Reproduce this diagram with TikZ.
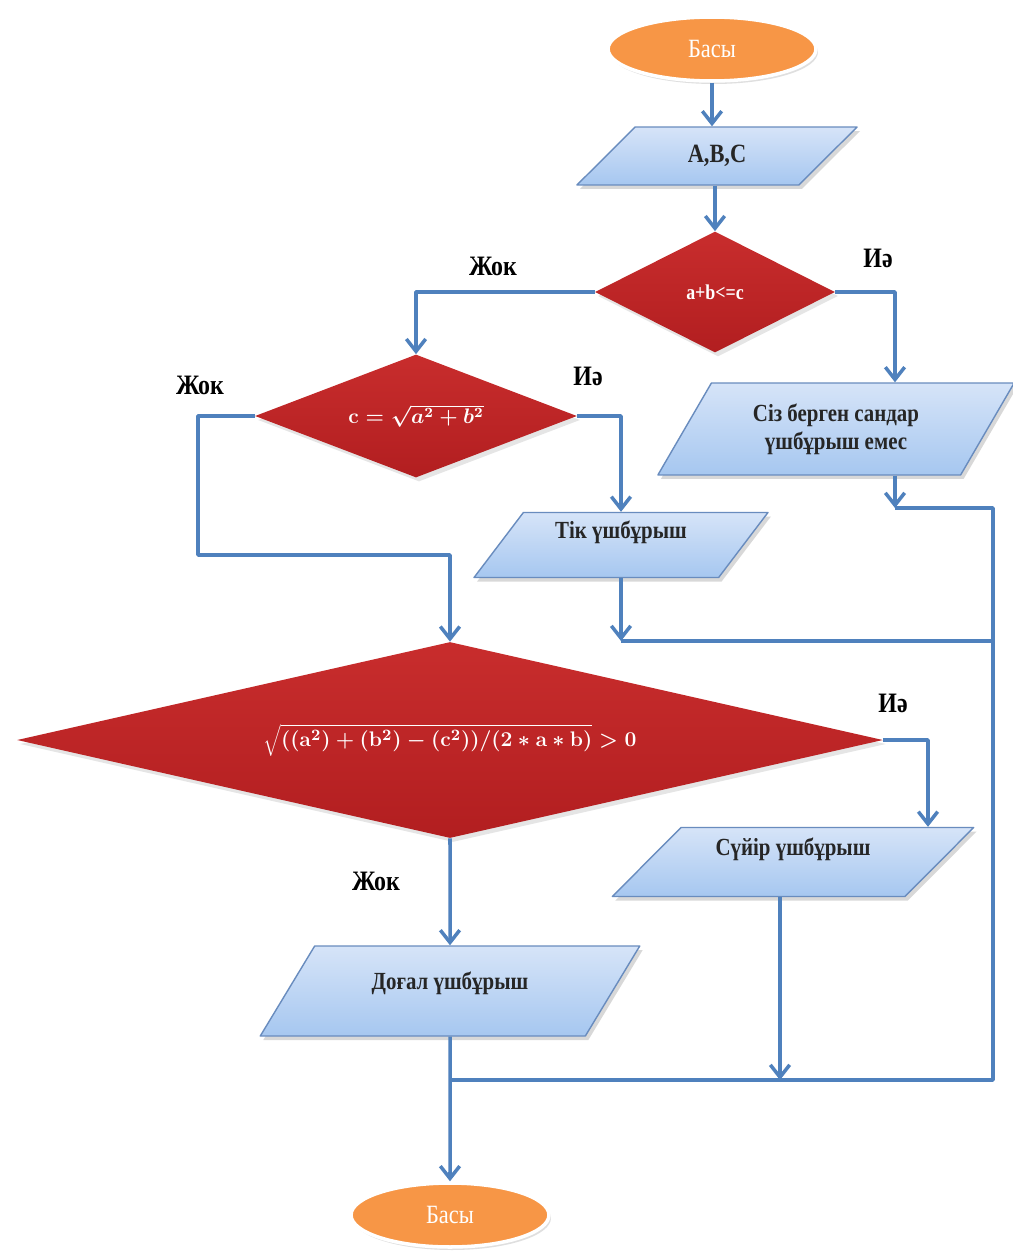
\documentclass[tikz,border=0pt]{standalone}
\usepackage{fontspec}
\setmainfont{Liberation Serif}[FakeStretch=0.85]
\usetikzlibrary{shapes.geometric,arrows.meta,shadows}
\definecolor{flowblue}{RGB}{79,129,189}
\definecolor{floworange}{RGB}{247,150,70}
\definecolor{iotop}{RGB}{214,228,248}
\definecolor{iobot}{RGB}{166,199,240}
\definecolor{iodraw}{RGB}{105,140,190}
\definecolor{testtop}{RGB}{200,45,45}
\definecolor{testbot}{RGB}{178,30,32}
\begin{document}
\begin{tikzpicture}[x=0.02cm,y=-0.02cm,line join=round,
  link/.style={draw=flowblue,line width=2pt},
  arr/.style={link,-{Straight Barb[length=7pt,width=11pt]}},
  term/.style={ellipse,fill=floworange,draw=white,line width=2pt,text=white,
    font=\fontsize{15}{17}\selectfont,inner sep=0pt,
    drop shadow={opacity=0.25,shadow xshift=0.4mm,shadow yshift=-0.6mm}},
  io/.style={trapezium,trapezium stretches=true,draw=iodraw,line width=0.8pt,
    top color=iotop,bottom color=iobot,text=black!85,inner sep=0pt,
    font=\fontsize{14}{16}\selectfont\bfseries,
    drop shadow={opacity=0.3,shadow xshift=0.6mm,shadow yshift=-0.8mm}},
  test/.style={diamond,top color=testtop,bottom color=testbot,text=white,inner sep=0pt,
    drop shadow={opacity=0.2,shadow xshift=0.6mm,shadow yshift=-0.8mm}},
  answer/.style={font=\fontsize{16}{18}\selectfont\bfseries}]
  \path[use as bounding box,fill=white] (0,0) rectangle (1013,1254);

  \node[term,minimum width=4.16cm,minimum height=1.28cm] (start) at (712,49) {Басы};
  \node[io,trapezium left angle=46,trapezium right angle=134,minimum width=5.62cm,
    minimum height=1.16cm,font=\fontsize{15}{17}\selectfont\bfseries] (inp) at (717,156) {A,B,C};
  \node[test,aspect=2,minimum width=4.8cm,minimum height=2.42cm,
    font=\fontsize{12}{14}\selectfont\bfseries] (d1) at (715,292) {a+b<=c};
  \node[test,aspect=2.6,minimum width=6.44cm,minimum height=2.46cm,
    font=\fontsize{12}{14}\selectfont\bfseries\boldmath] (d2) at (416,416) {$\mathbf{c}=\sqrt{a^2+b^2}$};
  \node[io,trapezium left angle=55,trapezium right angle=125,minimum width=7.14cm,
    minimum height=1.84cm,align=center] (none) at (836,429) {Сіз берген сандар\\үшбұрыш емес};
  \node[io,trapezium left angle=55,trapezium right angle=125,minimum width=5.88cm,
    minimum height=1.3cm,text height=0.35cm,text depth=0.6cm] (right) at (621,545) {Тік үшбұрыш};
  \node[test,aspect=4.4,minimum width=17.32cm,minimum height=3.92cm,
    font=\fontsize{13}{15}\selectfont\bfseries\boldmath] (d3) at (450,740)
    {$\sqrt{((\mathbf{a}^2)+(\mathbf{b}^2)-(\mathbf{c}^2))/(2\ast\mathbf{a}\ast\mathbf{b})}>0$};
  \node[io,trapezium left angle=45,trapezium right angle=135,minimum width=7.24cm,
    minimum height=1.38cm,text height=0.35cm,text depth=0.6cm] (acute) at (793,862) {Сүйір үшбұрыш};
  \node[io,trapezium left angle=50,trapezium right angle=130,minimum width=7.6cm,
    minimum height=1.8cm,text height=0.35cm,text depth=0.4cm] (obtuse) at (450,991) {Доғал үшбұрыш};
  \node[term,minimum width=3.96cm,minimum height=1.28cm] (stop) at (450,1215) {Басы};

  \node[answer] (no1) at (493,266) {Жок};
  \node[answer] (yes1) at (878,258) {Иә};
  \node[answer] (no2) at (200,385) {Жок};
  \node[answer] (yes2) at (588,376) {Иә};
  \node[answer] (yes3) at (893,703) {Иә};
  \node[answer] (no3) at (376,881) {Жок};

  \coordinate (c1) at (895,292);
  \coordinate (c2) at (198,555);
  \coordinate (c3) at (895,508);
  \coordinate (c4) at (993,641);
  \coordinate (c5) at (928,740);
  \coordinate (c6) at (780,1080);
  \coordinate (c7) at (993,508);

  \draw[arr] (start) -- (start |- inp.north);
  \draw[arr] (d1.north |- inp.south) -- (d1.north);
  \draw[arr] (d1.west) -| (d2.north);
  \draw[arr] (d1.east) -- (c1) -- (c1 |- none.north);
  \draw[arr] (d2.east) -| (right.north);
  \draw[arr] (d2.west) -| (c2) -| (d3.north);
  \draw[arr] (c1 |- none.south) -- (c3);
  \draw[link] (c3) -- (c7) -- (c7 |- c6) -- (obtuse.south |- c6);
  \draw[arr] (right.south) -- (right.south |- c4);
  \draw[link] (right.south |- c4) -- (c4);
  \draw[arr] (d3.east) -- (c5) -- (c5 |- acute.north);
  \draw[arr] (d3.south) -- (obtuse.north);
  \draw[arr] (c6 |- acute.south) -- (c6);
  \draw[arr] (obtuse.south) -- (stop.north);
\end{tikzpicture}
\end{document}
